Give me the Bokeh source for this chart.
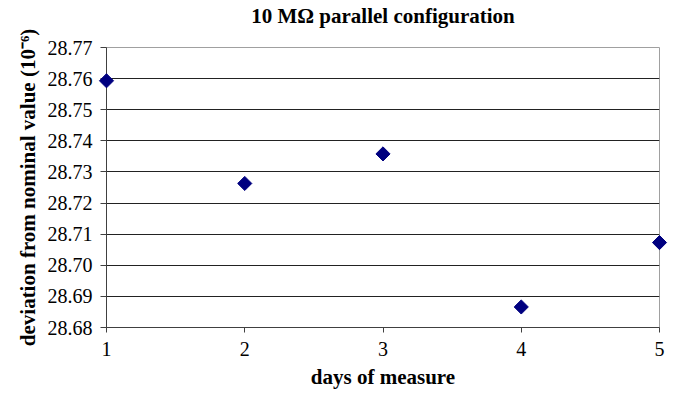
import numpy as np
from bokeh.plotting import figure
from bokeh.models import FixedTicker, NumeralTickFormatter, Range1d, LinearAxis
from bokeh.embed import file_html
from bokeh.resources import INLINE

# data
days = [1, 2, 3, 4, 5]
deviation = [28.7593, 28.7263, 28.7358, 28.6866, 28.7073]
x_ticks = [1, 2, 3, 4, 5]
y_ticks = [28.68, 28.69, 28.70, 28.71, 28.72, 28.73, 28.74, 28.75, 28.76, 28.77]

title_text = "10 M\u03a9 parallel configuration"
x_label = "days of measure"
y_label = "deviation from nominal value (10\u207b\u2076)"

FONT = "Liberation Serif"

p = figure(width=670, height=393, output_backend="svg", toolbar_location=None,
           x_range=Range1d(x_ticks[0], x_ticks[-1]),
           y_range=Range1d(y_ticks[0], y_ticks[-1]),
           min_border_left=106, min_border_right=11, min_border_top=47,
           min_border_bottom=66)

p.background_fill_color = "white"
p.border_fill_color = "white"
p.outline_line_color = "#a0a0a0"

# chart title drawn as the centred label of a bare axis above the frame
top_axis = LinearAxis(ticker=FixedTicker(ticks=[]), axis_label=title_text,
                      axis_line_color=None, major_tick_line_color=None,
                      minor_tick_line_color=None, major_label_text_font_size="0px",
                      axis_label_text_font=FONT, axis_label_text_font_size="21px",
                      axis_label_text_font_style="bold", axis_label_text_color="black",
                      axis_label_align="center", axis_label_standoff=20,
                      major_tick_out=0, major_label_standoff=0,
                      bounds=(3.054, 4.935))
p.add_layout(top_axis, "above")

p.xgrid.visible = False
p.ygrid.ticker = FixedTicker(ticks=y_ticks[:-1])
p.ygrid.grid_line_color = "#222222"
p.ygrid.grid_line_width = 1

xa = p.below[0]
xa.ticker = FixedTicker(ticks=x_ticks)
p.yaxis.ticker = FixedTicker(ticks=y_ticks)
p.yaxis.formatter = NumeralTickFormatter(format="0.00")

for ax in (xa, p.yaxis[0]):
    ax.axis_line_color = "#404040"
    ax.major_tick_line_color = "#404040"
    ax.minor_tick_line_color = None
    ax.major_tick_in = 0
    ax.major_label_text_font = FONT
    ax.major_label_text_font_size = "20px"
    ax.major_label_text_color = "black"
    ax.axis_label_text_font = FONT
    ax.axis_label_text_font_size = "21px"
    ax.axis_label_text_font_style = "bold"
    ax.axis_label_text_color = "black"

xa.axis_label = x_label
xa.major_tick_out = 5
xa.major_label_standoff = 9
xa.axis_label_standoff = 6

p.yaxis.axis_label = y_label
p.yaxis.major_tick_out = 6
p.yaxis.major_label_standoff = 8
p.yaxis.axis_label_standoff = 5

r = p.scatter(days, deviation, marker="square", angle=np.pi / 4, size=10,
              fill_color="#000080", line_color="#000080")
r.level = "overlay"

open("out.html", "w").write(file_html(p, INLINE))
